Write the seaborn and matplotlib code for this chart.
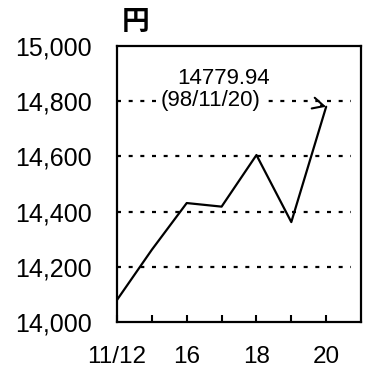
import matplotlib
matplotlib.use("Agg")
import matplotlib.pyplot as plt
import seaborn as sns
import pandas as pd

# Nikkei-style closing prices, Nov 12-20 (trading days)
dates = ["11/12", "11/13", "11/16", "11/17", "11/18", "11/19", "11/20"]
closes = [14080, 14262, 14431, 14418, 14605, 14362, 14779.94]
tick_labels = ["11/12", "", "16", "", "18", "", "20"]
grid_levels = [14200, 14400, 14600, 14800]
y_ticks = [14000, 14200, 14400, 14600, 14800, 15000]
last_label = "14779.94"
last_date = "(98/11/20)"
unit = "円"

sns.set_theme(style="white")
plt.rcParams["font.family"] = ["Liberation Sans", "DejaVu Sans"]

df = pd.DataFrame({"pos": range(len(dates)), "close": closes})

fig = plt.figure(figsize=(3.66, 3.70), dpi=100)
ax = fig.add_axes([0.3197, 0.1297, 0.6667, 0.746])

for lvl in grid_levels:
    ax.axhline(lvl, xmin=0, xmax=0.96, color="black", lw=1.6,
               linestyle=(0, (1.8, 3.45)), zorder=1)

sns.lineplot(data=df, x="pos", y="close", ax=ax, color="black", lw=1.6,
             zorder=3)

ax.set_xlim(0, 7)
ax.set_ylim(14000, 15000)
ax.set_xticks(range(len(dates)))
ax.set_xticklabels(tick_labels)
ax.set_yticks(y_ticks)
ax.set_yticklabels([f"{v:,}" for v in y_ticks])
ax.set_xlabel("")
ax.set_ylabel("")
ax.tick_params(axis="x", direction="in", length=5, width=1.5, color="black",
               pad=17, labelsize=17.5, bottom=True)
ax.tick_params(axis="y", length=0, pad=18, labelsize=18)
for s in ax.spines.values():
    s.set_color("black")
    s.set_linewidth(1.6)
for lab in ax.get_xticklabels() + ax.get_yticklabels():
    lab.set_color("black")

ax.text(2.67, 14804, last_date, ha="center", va="center", fontsize=16,
        color="black", zorder=4,
        bbox=dict(facecolor="white", edgecolor="none", pad=1.0))
ax.annotate(last_label, xy=(6, closes[-1]), xytext=(3.06, 14884),
            ha="center", va="center", fontsize=16, color="black", zorder=4,
            arrowprops=dict(arrowstyle="->", color="black", lw=1.5,
                            shrinkA=36, shrinkB=8, mutation_scale=20))

fig.text(136 / 366, 1 - 22 / 370, unit, ha="center", va="center",
         fontsize=20, fontweight="bold",
         family=["Noto Sans CJK JP", "DejaVu Sans"], color="black")

fig.savefig("out.png", dpi=100)
